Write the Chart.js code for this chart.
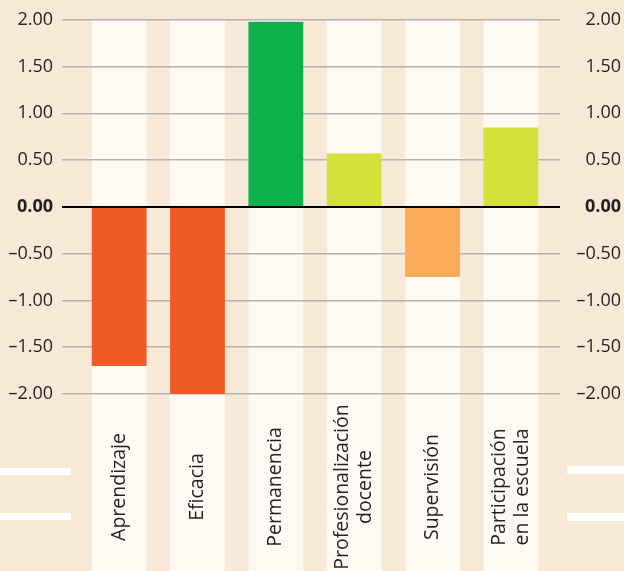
<!DOCTYPE html>
<html>
<head>
<meta charset="utf-8">
<script src="https://cdn.jsdelivr.net/npm/chart.js@4/dist/chart.umd.min.js"></script>
<style>
  html, body { margin: 0; padding: 0; background: #f8e9d6; }
  #wrap { width: 624px; height: 571px; }
</style>
</head>
<body>
<div id="wrap"><canvas id="chart" width="624" height="571"></canvas></div>
<script>
// Chart data
const categories = [
  ['Aprendizaje'],
  ['Eficacia'],
  ['Permanencia'],
  ['Profesionalización', 'docente'],
  ['Supervisión'],
  ['Participación', 'en la escuela']
];
const values = [-1.70, -2.00, 1.98, 0.57, -0.75, 0.85];
const barColors = ['#f15a24', '#f15a24', '#0db14b', '#d7df3a', '#f9ab57', '#d7df3a'];
const tickValues = [-2, -1.5, -1, -0.5, 0, 0.5, 1, 1.5, 2];

const FONT = '"Open Sans", "Noto Sans", sans-serif';
const TEXT = '#231f20';

function fmt(v) {
  return (v < 0 ? '\u2013' : '') + Math.abs(v).toFixed(2);
}

// Background, white column strips and decorative bars
const backdrop = {
  id: 'backdrop',
  beforeDraw(chart) {
    const { ctx, chartArea, scales } = chart;
    ctx.save();
    ctx.fillStyle = '#f8e9d6';
    ctx.fillRect(0, 0, chart.width, chart.height);
    const meta = chart.getDatasetMeta(0);
    ctx.fillStyle = '#fdf9f3';
    meta.data.forEach((bar, i) => {
      const x = scales.x.getPixelForValue(i);
      const w = bar.width;
      ctx.fillRect(x - w / 2, chartArea.top, w, chart.height - chartArea.top);
    });
    ctx.fillStyle = '#ffffff';
    ctx.fillRect(0, 468, 71, 7);
    ctx.fillRect(0, 513, 71, 7);
    ctx.fillRect(567, 466, 57, 8);
    ctx.fillRect(567, 513, 57, 8);
    ctx.restore();
  },
  afterDraw(chart) {
    const { ctx, scales } = chart;
    ctx.save();
    ctx.fillStyle = TEXT;
    ctx.font = '19.5px ' + FONT;
    ctx.textAlign = 'center';
    ctx.textBaseline = 'middle';
    const lineH = 23;
    categories.forEach((lines, i) => {
      const x = scales.x.getPixelForValue(i);
      ctx.save();
      ctx.translate(x, 487);
      ctx.rotate(-Math.PI / 2);
      lines.forEach((line, j) => {
        const off = (j - (lines.length - 1) / 2) * lineH;
        ctx.fillText(line, 0, off);
      });
      ctx.restore();
    });
    ctx.restore();
  }
};

const gridColor = ctx => (ctx.tick && ctx.tick.value === 0 ? '#000000' : '#b3b3b3');
const gridWidth = ctx => (ctx.tick && ctx.tick.value === 0 ? 2 : 1.5);
const tickFont = ctx => ({
  family: FONT,
  size: 18,
  weight: ctx.tick && ctx.tick.value === 0 ? 'bold' : 'normal'
});

new Chart(document.getElementById('chart'), {
  type: 'bar',
  data: {
    labels: categories,
    datasets: [{
      data: values,
      backgroundColor: barColors,
      borderWidth: 0,
      barPercentage: 1,
      categoryPercentage: 0.70
    }]
  },
  options: {
    responsive: false,
    animation: false,
    layout: { padding: { top: 19, bottom: 177, left: 0, right: 3 } },
    plugins: { legend: { display: false }, tooltip: { enabled: false } },
    scales: {
      x: {
        ticks: { display: false },
        grid: { display: false },
        border: { display: false },
        afterFit: s => { s.height = 0; }
      },
      y: {
        position: 'left',
        min: -2, max: 2,
        afterBuildTicks: s => { s.ticks = tickValues.map(v => ({ value: v })); },
        afterFit: s => { s.width = 80; },
        border: { display: false },
        grid: { color: gridColor, lineWidth: gridWidth, tickLength: 18 },
        ticks: { callback: fmt, color: TEXT, font: tickFont, padding: 9 }
      },
      y2: {
        position: 'right',
        min: -2, max: 2,
        afterBuildTicks: s => { s.ticks = tickValues.map(v => ({ value: v })); },
        afterFit: s => { s.width = 71; },
        border: { display: false },
        grid: { color: gridColor, lineWidth: gridWidth, tickLength: 10, drawOnChartArea: false },
        ticks: { callback: fmt, color: TEXT, font: tickFont, crossAlign: 'far' }
      }
    }
  },
  plugins: [backdrop]
});
</script>
</body>
</html>
